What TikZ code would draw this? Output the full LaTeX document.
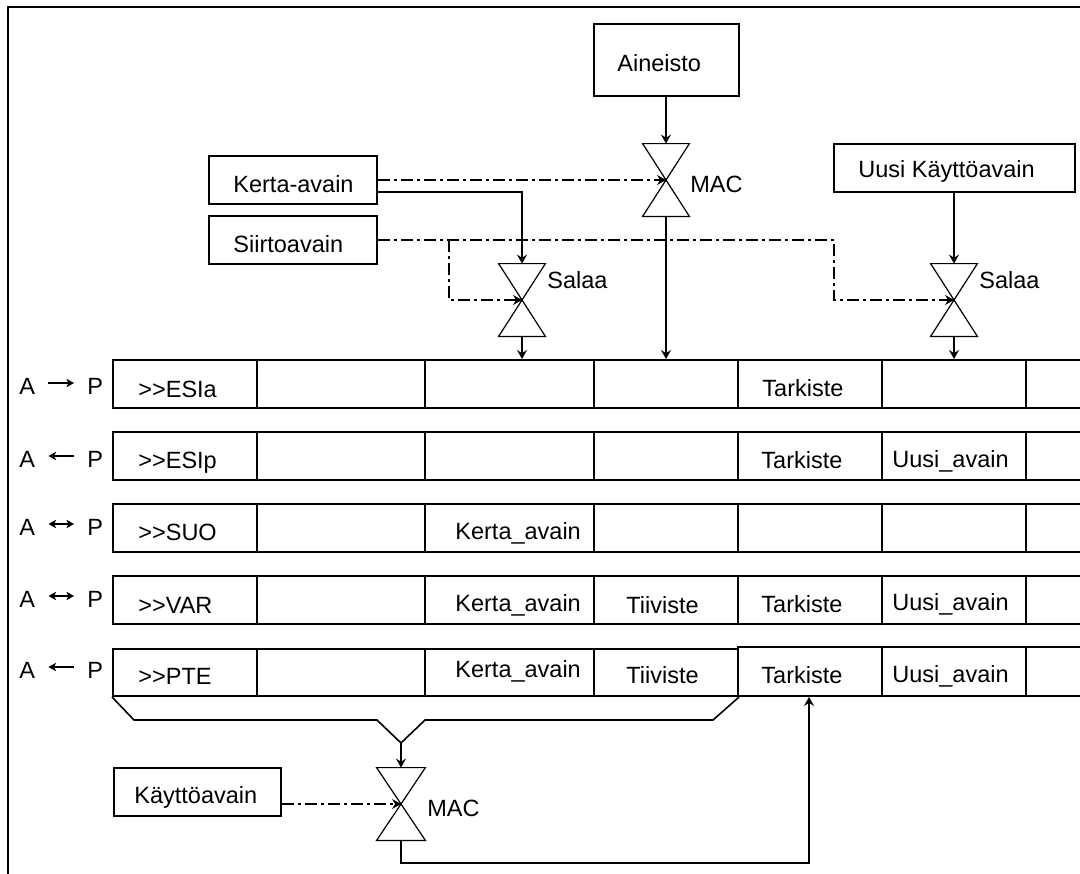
\documentclass[tikz,border=0pt]{standalone}
\usepackage{fontspec}
\setmainfont{Liberation Sans}
\usetikzlibrary{arrows.meta,calc,fit}
\begin{document}
\begin{tikzpicture}[x=0.5pt,y=-0.5pt,
  font=\fontsize{11.75}{14}\selectfont,
  box/.style={draw,line width=1pt,rectangle,inner sep=0pt},
  cell/.style={draw,line width=1pt,rectangle,inner sep=0pt},
  txt/.style={anchor=base west,inner sep=0pt},
  valve/.style={minimum width=23pt,minimum height=36pt,inner sep=0pt},
  conn/.style={line width=0.85pt,-{Stealth[length=4.5pt,width=5pt,inset=1.6pt]}},
  dd/.style={conn,dash pattern=on 6pt off 2pt on 1.5pt off 2pt},
  sarr/.style={line width=0.65pt,>={Stealth[length=3.8pt,width=4.2pt,inset=1pt]}},
  hg/.style={line width=0.6pt},
  brk/.style={line width=0.8pt},
]
\useasboundingbox (0,0) rectangle (1080,873);
\clip (0,0) rectangle (1080,873);

% frame
\draw[line width=1.1pt] (8,890) -- (8,7) -- (1090,7);

% boxes
\node[box,minimum width=72.5pt,minimum height=36pt] (ain) at (666,60) {};
\node[txt] (ainT) at (617,71) {Aineisto};
\node[box,minimum width=84pt,minimum height=24pt] (ker) at (293,180) {};
\node[txt] (kerT) at (233,192) {Kerta-avain};
\node[box,minimum width=84pt,minimum height=24pt] (sii) at (293,240) {};
\node[txt] (siiT) at (233,252) {Siirtoavain};
\node[box,minimum width=120.5pt,minimum height=24pt] (uus) at (954,168) {};
\node[txt] (uusT) at (858,177) {Uusi Käyttöavain};
\node[box,minimum width=83.5pt,minimum height=24pt] (kay) at (197.5,792) {};
\node[txt] (kayT) at (134,803) {Käyttöavain};

% valves
\node[valve] (mac1) at (666,180) {};
\node[valve] (sal1) at (522,300) {};
\node[valve] (sal2) at (954,300) {};
\node[valve,minimum width=24pt] (mac2) at (401,804) {};
\foreach \v in {mac1,sal1,sal2,mac2}
  \draw[hg] (\v.north west) -- (\v.north east) -- (\v.south west) -- (\v.south east) -- cycle;
\node[txt] (mac1T) at (690,192) {MAC};
\node[txt] (sal1T) at (547,288) {Salaa};
\node[txt] (sal2T) at (979,288) {Salaa};
\node[txt] (mac2T) at (427,816) {MAC};

% rows of cells
\foreach \r/\t in {1/360,2/432,3/504,4/576} {
  \foreach \c/\xl/\xr in {1/113/257,2/257/425,3/425/594,4/594/738,5/738/882,6/882/1026,7/1026/1120} {
    \node[cell,fit={(\xl,\t) (\xr,\t+48)}] (r\r c\c) {};
  }
}
\foreach \c/\xl/\xr in {1/113/257,2/257/425,3/425/594,4/594/738} {
  \node[cell,fit={(\xl,649) (\xr,696)}] (r5c\c) {};
}
\foreach \c/\xl/\xr in {5/738/882,6/882/1026,7/1026/1120} {
  \node[cell,fit={(\xl,647) (\xr,696)}] (r5c\c) {};
}

% cell texts
\node[txt] (t11) at (138,397) {\mbox{>}\mbox{>}ESIa};
\node[txt] (t15) at (762,396) {Tarkiste};
\node[txt] (t21) at (138,468) {\mbox{>}\mbox{>}ESIp};
\node[txt] (t25) at (761,468) {Tarkiste};
\node[txt] (t26) at (892,467) {Uusi\_avain};
\node[txt] (t31) at (138,540) {\mbox{>}\mbox{>}SUO};
\node[txt] (t33) at (455,539) {Kerta\_avain};
\node[txt] (t41) at (138,613) {\mbox{>}\mbox{>}VAR};
\node[txt] (t43) at (455,611) {Kerta\_avain};
\node[txt] (t44) at (626,613) {Tiiviste};
\node[txt] (t45) at (761,612) {Tarkiste};
\node[txt] (t46) at (892,610) {Uusi\_avain};
\node[txt] (t51) at (138,684) {\mbox{>}\mbox{>}PTE};
\node[txt] (t53) at (455,677) {Kerta\_avain};
\node[txt] (t54) at (626,683) {Tiiviste};
\node[txt] (t55) at (761,683) {Tarkiste};
\node[txt] (t56) at (892,682) {Uusi\_avain};

% A / P labels
\foreach \r/\b/\tip in {1/394/->,2/467/<-,3/535/<->,4/607/<->,5/678/<-} {
  \node[txt] (A\r) at (19,\b) {A};
  \node[txt] (P\r) at (87,\b) {P};
  \draw[sarr,\tip] ($(A\r.base east)+(13,-11)$) -- ($(P\r.base west)+(-13,-11)$);
}

% connectors top
\draw[conn] (ain.south) -- (mac1.north);
\draw[dd] (ker.east) -- (mac1.center);
\draw[conn] ([yshift=-6pt]ker.east) -| (sal1.north);
\coordinate (sb) at (449,240);
\coordinate (st) at (834,240);
\draw[dd] (sii.east) -- (st) |- (sal2.center);
\draw[dd] (sb) |- (sal1.center);
\draw[conn] (sal2.north |- uus.south) -- (sal2.north);
\draw[conn] (mac1.south) -- (mac1.south |- r1c4.north);
\draw[conn] (sal1.south) -- (sal1.south |- r1c3.north);
\draw[conn] (sal2.south) -- (sal2.south |- r1c6.north);

% bottom
\coordinate (apex) at (401,743);
\draw[brk] (r5c1.south west) -- (134,720) -- (377,720) -- (apex) -- (425,720) -- (713,720) -- (r5c4.south east);
\draw[conn] (apex) -- (mac2.north);
\draw[dd] (kay.east |- mac2.center) -- (mac2.center);
\coordinate (ret) at (809,863);
\draw[conn] (mac2.south) |- (ret) -- (ret |- r5c5.south);
\end{tikzpicture}
\end{document}
